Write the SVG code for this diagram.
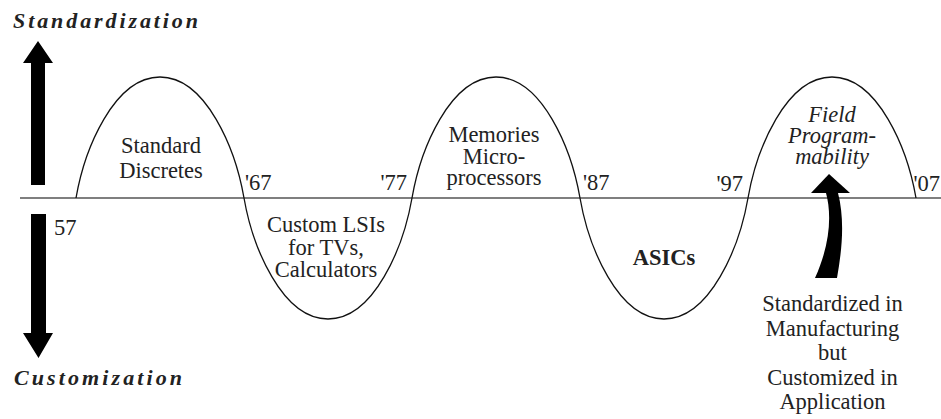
<svg xmlns="http://www.w3.org/2000/svg" width="941" height="419" viewBox="0 0 941 419">
<style>
.t{fill:#222;font-size:22.5px;font-family:'Liberation Serif','Times New Roman',serif}
.c{text-anchor:middle}
.e{text-anchor:end}
.bi{font-weight:bold;font-style:italic;font-size:22px}
.it{font-style:italic}
.b{font-weight:bold}
.axis{stroke:#555;stroke-width:1.6;fill:none}
.wave{stroke:#111;stroke-width:1.3;fill:none}
.arr{fill:#000;stroke:none}
</style>
<rect width="941" height="419" fill="#fff"/>
<g id="axis">
<line class="axis" x1="20" y1="198" x2="941" y2="198"/>
<path class="wave" d="M76,198 c8.4,-48.4 37.8,-121 84,-121 c46.2,0 75.6,72.6 84,121 c8.4,48.4 37.8,121 84,121 c46.2,0 75.6,-72.6 84,-121 c8.4,-48.4 37.8,-121 84,-121 c46.2,0 75.6,72.6 84,121 c8.4,48.4 37.8,121 84,121 c46.2,0 75.6,-72.6 84,-121 c8.4,-48.4 37.8,-121 84,-121 c46.2,0 75.6,72.6 84,121"/>
</g>
<g id="connectors">
<path class="arr" d="M31,185 L45,185 L45,63 L53,63 L38,41 L23,63 L31,63 Z"/>
<path class="arr" d="M31,214 L46,214 L46,333 L53,333 L38.5,358 L23,333 L31,333 Z"/>
<path class="arr" d="M826,193 C832,215 830,245 815,278 L837,278 C842,250 845,220 838,193 Z"/>
<path class="arr" d="M829,174 L850,193 L811,193 Z"/>
</g>
<g class="t">
<g id="standardization"><text class="bi" x="13" y="28" textLength="185" lengthAdjust="spacing">Standardization</text></g>
<g id="customization"><text class="bi" x="14" y="385" textLength="168" lengthAdjust="spacing">Customization</text></g>
<g id="y57"><text x="54" y="235">57</text></g>
<g id="y67"><text x="245" y="190">'67</text></g>
<g id="y77"><text class="e" x="407" y="190">'77</text></g>
<g id="y87"><text x="583" y="190">'87</text></g>
<g id="y97"><text class="e" x="743" y="191">'97</text></g>
<g id="y07"><text class="e" x="940" y="191">'07</text></g>
<g id="discretes"><text class="c" x="161" y="153">Standard</text><text class="c" x="161" y="178">Discretes</text></g>
<g id="lsis"><text class="c" x="326" y="232">Custom LSIs</text><text class="c" x="326" y="254.5">for TVs,</text><text class="c" x="326" y="277">Calculators</text></g>
<g id="memories"><text class="c" x="494" y="142">Memories</text><text class="c" x="494" y="163.5">Micro-</text><text class="c" x="494" y="185">processors</text></g>
<g id="asics"><text class="c b" x="664" y="265">ASICs</text></g>
<g id="field"><text class="c it" x="832" y="122">Field</text><text class="c it" x="832" y="143">Program-</text><text class="c it" x="832" y="164">mability</text></g>
<g id="note"><text class="c" x="832.5" y="311">Standardized in</text><text class="c" x="832.5" y="335.5">Manufacturing</text><text class="c" x="832.5" y="360">but</text><text class="c" x="832.5" y="384.5">Customized in</text><text class="c" x="832.5" y="409">Application</text></g>
</g>
</svg>
